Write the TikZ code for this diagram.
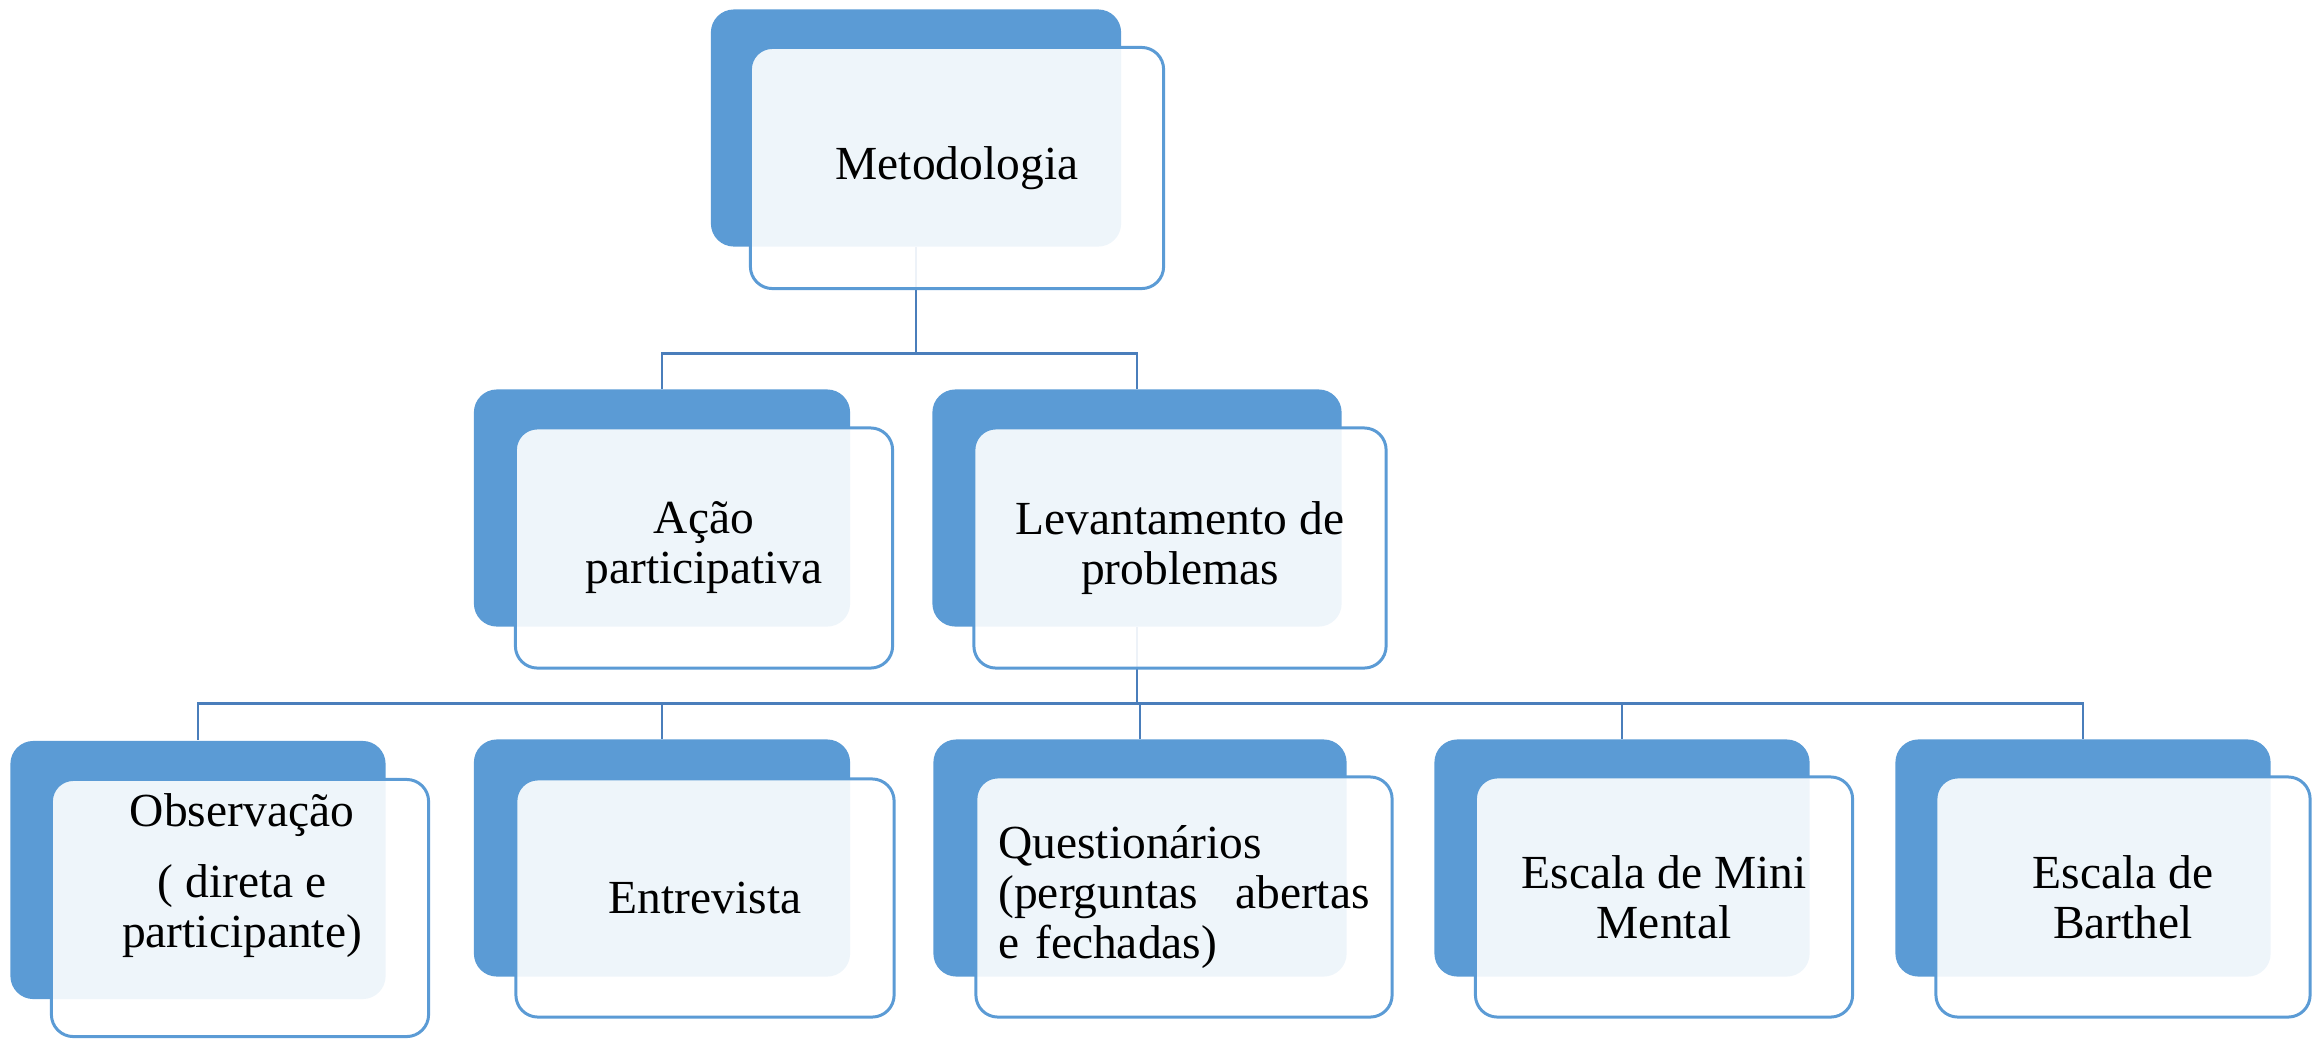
\documentclass[tikz,border=0pt]{standalone}
\usepackage{fontspec}
\setmainfont{Liberation Serif}

\definecolor{boxblue}{RGB}{91,155,213}
\definecolor{linkblue}{RGB}{74,126,187}

\tikzset{
  darkbox/.style={fill=boxblue, rounded corners=0.23cm, minimum height=2.37cm, inner sep=0pt},
  litebox/.style={draw=boxblue, line width=0.85pt, fill=white, fill opacity=0.9, text opacity=1,
    rounded corners=0.22cm, minimum height=2.40cm, inner sep=0pt, align=center,
    font=\fontsize{13.5}{14.2}\selectfont},
  boxtext/.style={inner sep=0pt, align=center, font=\fontsize{13.5}{14.2}\selectfont},
  link/.style={draw=linkblue, line width=0.8pt}
}

\begin{document}
\begin{tikzpicture}[x=0.01cm, y=-0.01cm]
          \useasboundingbox (0,0) rectangle (2312,1039);

          % back boxes
          \node [darkbox, minimum width=4.10cm] (metd) at (916,128) {}; % Metodologia
          \node [darkbox, minimum width=3.76cm] (acaod) at (662,508) {}; % Acao
          \node [darkbox, minimum width=4.09cm] (levd) at (1137,508) {}; % Levantamento

          \node [darkbox, minimum width=3.75cm, minimum height=2.58cm] (obsd) at (198,870) {};
          \node [darkbox, minimum width=3.76cm] (entd) at (662,858) {};
          \node [darkbox, minimum width=4.13cm] (qued) at (1140,858) {};
          \node [darkbox, minimum width=3.75cm] (minid) at (1622,858) {};
          \node [darkbox, minimum width=3.75cm] (bartd) at (2083,858) {};

          % connectors
          \draw [link] (metd.south) -- ++(0,106) -| (acaod.north);
          \draw [link] (metd.south) -- ++(0,106) -| (levd.north);

          \draw [link] (levd.south) -- ++(0,76) -| (obsd.north);
          \draw [link] (levd.south) -- ++(0,76) -| (entd.north);
          \draw [link] (levd.south) -- ++(0,76) -| (qued.north);
          \draw [link] (levd.south) -- ++(0,76) -| (minid.north);
          \draw [link] (levd.south) -- ++(0,76) -| (bartd.north);

          % front boxes
          \node [litebox, minimum width=4.13cm, minimum height=2.41cm] (metl) at (957,168) {Metodologia};
          \node [litebox, minimum width=3.77cm] (acaol) at (704,548) {Ação\\participativa};
          \node [litebox, minimum width=4.12cm] (levl) at (1180,548) {Levantamento de\\problemas};

          \node [litebox, minimum width=3.77cm, minimum height=2.57cm] (obsl) at (240,908) {};
          \node [boxtext] (obstxt) at (242,876) {Observação\\[6pt]( direta e\\participante)};
          \node [litebox, minimum width=3.78cm, minimum height=2.38cm] (entl) at (705,898) {Entrevista};
          \node [litebox, minimum width=4.16cm, text width=3.71cm, align=left] (quel) at (1184,897)
            {Questionários\\(perguntas\hfill abertas\\e fechadas)};
          \node [litebox, minimum width=3.77cm] (minil) at (1664,897) {Escala de Mini\\Mental};
          \node [litebox, minimum width=3.74cm] (bartl) at (2123,897) {Escala de\\Barthel};
        \end{tikzpicture}
\end{document}
